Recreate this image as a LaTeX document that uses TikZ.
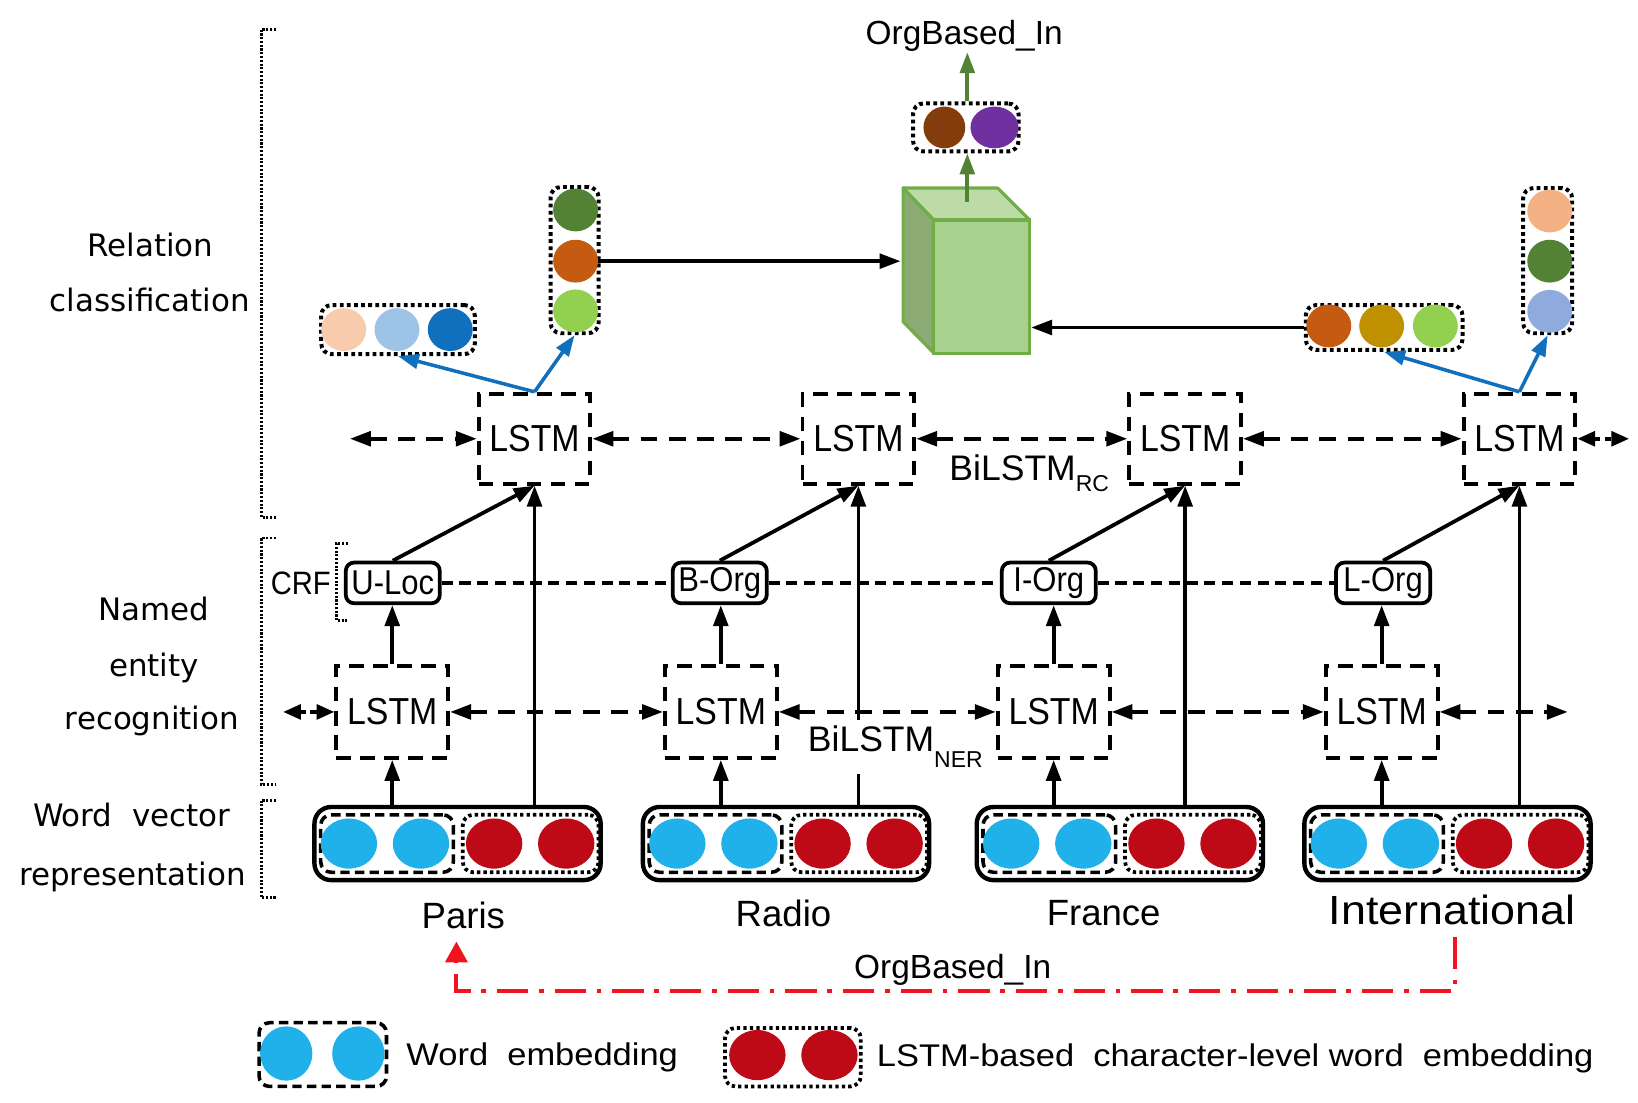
\documentclass[tikz,border=0pt]{standalone}
\usepackage{fontspec}
\setmainfont{Liberation Sans}
\newfontfamily\lab{DejaVu Sans}
\newfontfamily\narrowf{Liberation Sans}[FakeStretch=0.9]
\newfontfamily\widef{Liberation Sans}[FakeStretch=1.1]
\usetikzlibrary{arrows.meta,shapes.geometric,calc}
\definecolor{wblue}{HTML}{20B0EA}
\definecolor{cred}{HTML}{BE0A16}
\definecolor{dgreen}{HTML}{548235}
\definecolor{orng}{HTML}{C55A11}
\definecolor{lgreen}{HTML}{92D050}
\definecolor{peach}{HTML}{F8CBAD}
\definecolor{lblue}{HTML}{9DC3E6}
\definecolor{dblue}{HTML}{1070BE}
\definecolor{gold}{HTML}{BF9000}
\definecolor{peachb}{HTML}{F4B183}
\definecolor{lblueb}{HTML}{8FAADC}
\definecolor{obrown}{HTML}{843C0C}
\definecolor{purp}{HTML}{7030A0}
\definecolor{cubefront}{HTML}{A9D18E}
\definecolor{cubetop}{HTML}{BDDBA6}
\definecolor{cubeleft}{HTML}{8CAA74}
\definecolor{cubeedge}{HTML}{70AD47}
\definecolor{garrow}{HTML}{548235}
\definecolor{barrow}{HTML}{1170BE}
\definecolor{rline}{HTML}{F0141E}
\newcommand\wordvec[3]{%
  \node[embbox] (#1) at (#2,#3) {};
  \node[wdbox] (#1w) at ({#2-67.5},#3) {};
  \node[chbox] (#1c) at ({#2+70},#3) {};
  \node[ball,fill=wblue] (#1a) at ({#2-104},#3) {};
  \node[ball,fill=wblue] (#1b) at ({#2-35},#3) {};
  \node[ball,fill=cred] (#1r) at ({#2+35},#3) {};
  \node[ball,fill=cred] (#1s) at ({#2+104},#3) {};
}
\begin{document}
\begin{tikzpicture}[x=0.5pt,y=-0.5pt,
  arr/.style={line width=1.8pt,-{Triangle[length=10pt,width=7pt]}},
  darr/.style={line width=1.8pt,dash pattern=on 8pt off 5.5pt,{Triangle[length=10pt,width=7pt]}-{Triangle[length=10pt,width=7pt]}},
  sdarr/.style={line width=1.8pt,dash pattern=on 3pt off 2pt,{Triangle[length=8.5pt,width=7pt]}-{Triangle[length=8.5pt,width=7pt]}},
  barr/.style={line width=1.7pt,color=barrow,-{Triangle[length=10pt,width=7pt]}},
  garr/.style={line width=1.8pt,color=garrow,-{Triangle[length=10pt,width=7pt]}},
  rarr/.style={line width=1.9pt,color=rline,dash pattern=on 15pt off 5.2pt on 2.2pt off 5.2pt,-{Triangle[length=10pt,width=10.5pt]}},
  lstmbox/.style={draw,line width=1.9pt,dash pattern=on 7pt off 4.5pt,minimum width=53.5pt,minimum height=43pt,inner sep=0pt,font=\narrowf\fontsize{18}{18}\selectfont},
  tagbox/.style={draw,line width=1.8pt,rounded corners=4pt,minimum width=45pt,minimum height=19.5pt,inner sep=0pt,font=\narrowf\fontsize{16.5}{16.5}\selectfont},
  tagline/.style={line width=1.7pt,dash pattern=on 5.3pt off 3.2pt},
  embbox/.style={draw,line width=2.1pt,rounded corners=8pt,minimum width=137pt,minimum height=35pt,inner sep=0pt},
  wdbox/.style={draw,line width=1.7pt,dash pattern=on 4.5pt off 2.5pt,rounded corners=5pt,minimum width=63.5pt,minimum height=27.5pt,inner sep=0pt},
  chbox/.style={draw,line width=1.8pt,dash pattern=on 1.6pt off 1.5pt,rounded corners=5pt,minimum width=65pt,minimum height=27.5pt,inner sep=0pt},
  vecbox/.style={draw,line width=1.9pt,dash pattern=on 1.8pt off 1.6pt,rounded corners=5pt,inner sep=0pt},
  ball/.style={ellipse,draw=none,inner sep=0pt,minimum width=27pt,minimum height=24pt},
  sball/.style={ellipse,draw=none,inner sep=0pt,minimum width=21.5pt,minimum height=20.5pt},
  bracket/.style={line width=1.4pt,dash pattern=on 1pt off 0.8pt},
  sidelab/.style={font=\lab\fontsize{14.8}{14.8}\selectfont,inner sep=0pt,anchor=base},
  word/.style={font=\fontsize{17.5}{17.5}\selectfont,anchor=base,inner sep=6pt}
]
\useasboundingbox (0,0) rectangle (1568,1055);

% side labels and brackets
\node[sidelab] (l1) at (144,246) {Relation};
\node[sidelab] (l2) at (143.5,298.5) {classification};
\node[sidelab] (l3) at (147.5,594) {Named};
\node[sidelab] (l4) at (147.5,647.6) {entity};
\node[sidelab] (l5) at (145.5,698) {recognition};
\node[sidelab] (l6) at (126,791) {Word\ \ vector};
\node[sidelab] (l7) at (127,847.5) {representation};
\draw[bracket] (264,28) -- (250,28) -- (250,495) -- (264,495);
\draw[bracket] (264,515) -- (250,515) -- (250,751) -- (264,751);
\draw[bracket] (264,766) -- (250,766) -- (250,859) -- (264,859);

% word vectors
\wordvec{e1}{438}{807.5}
\wordvec{e2}{752.4}{807.5}
\wordvec{e3}{1072}{807.5}
\wordvec{e4}{1385.6}{807.5}

\node[word] (paris) at (443.5,888.5) {Paris};
\node[word] (radio) at (750,887) {Radio};
\node[word] (france) at (1056.5,885.5) {France};
\node[word,font=\widef\fontsize{19.5}{19.5}\selectfont] (intl) at (1390,884.6) {International};

% NER LSTMs
\node[lstmbox,minimum height=44pt] (n1) at (375.5,681.5) {LSTM};
\node[lstmbox,minimum height=44pt] (n2) at (690,681.5) {LSTM};
\node[lstmbox,minimum height=44pt] (n3) at (1008.6,681.5) {LSTM};
\node[lstmbox,minimum height=44pt] (n4) at (1322.6,681.5) {LSTM};

% tags
\node[tagbox] (t1) at (376,558) {U-Loc};
\node[tagbox] (t2) at (689,558) {B-Org};
\node[tagbox] (t3) at (1004,558) {I-Org};
\node[tagbox] (t4) at (1324,558) {L-Org};
\node[font=\narrowf\fontsize{15.5}{15.5}\selectfont,inner sep=0pt] (crf) at (288,558) {CRF};
\draw[bracket] (333,520) -- (322,520) -- (322,594) -- (333,594);

% RC LSTMs
\node[lstmbox] (r1) at (511.7,420) {LSTM};
\node[lstmbox] (r2) at (821.7,420) {LSTM};
\node[lstmbox] (r3) at (1134.5,420) {LSTM};
\node[lstmbox] (r4) at (1454.5,420) {LSTM};

% vertical connectors
\foreach \e/\n/\t/\r in {e1/n1/t1/r1,e2/n2/t2/r2,e3/n3/t3/r3,e4/n4/t4/r4}{
  \draw[arr] (\e.north -| \n.south) -- (\n.south);
  \draw[arr] (\n.north) -- (\n.north |- \t.south);
  \draw[arr] (\e.north -| \r.south) -- (\r.south);
  \draw[arr] (\t.north) -- (\r.south);
}

% CRF chain
\draw[tagline] (t1.east) -- (t2.west);
\draw[tagline] (t2.east) -- (t3.west);
\draw[tagline] (t3.east) -- (t4.west);

% NER bidirectional
\coordinate (nl) at (271,681.5);
\coordinate (nr) at (1500.7,681.5);
\draw[sdarr] (nl) -- (n1.west);
\draw[darr] (n1.east) -- (n2.west);
\draw[darr] (n2.east) -- (n3.west);
\draw[darr] (n3.east) -- (n4.west);
\draw[darr] (n4.east) -- (nr);

% RC bidirectional
\coordinate (rl) at (335,420);
\coordinate (rr) at (1559.5,420);
\draw[darr] (rl) -- (r1.west);
\draw[darr] (r1.east) -- (r2.west);
\draw[darr] (r2.east) -- (r3.west);
\draw[darr] (r3.east) -- (r4.west);
\draw[sdarr] (r4.east) -- (rr);

\node[anchor=base west,inner sep=0pt,font=\fontsize{17}{17}\selectfont] (brc) at (908.5,459.5) {BiLSTM\raisebox{-5.5pt}{\fontsize{11}{11}\selectfont RC}};
\node[anchor=base west,fill=white,inner xsep=0pt,inner ysep=3pt,font=\fontsize{17}{17}\selectfont] (bner) at (773,719.6) {BiLSTM\raisebox{-7.5pt}{\fontsize{11}{11}\selectfont NER}};

% entity vectors
\node[vecbox,minimum width=73.5pt,minimum height=23.5pt] (hb1) at (381,315.5) {};
\node[sball,fill=peach] (hb1a) at (329,315.5) {};
\node[sball,fill=lblue] (hb1b) at (380,315.5) {};
\node[sball,fill=dblue] (hb1c) at (431,315.5) {};
\node[vecbox,minimum width=23pt,minimum height=70pt] (vb1) at (550,249) {};
\node[sball,fill=dgreen] (vb1a) at (551,201) {};
\node[sball,fill=orng] (vb1b) at (551,250) {};
\node[sball,fill=lgreen] (vb1c) at (551,297.6) {};
\node[vecbox,minimum width=75pt,minimum height=21.5pt] (hb2) at (1325,313.5) {};
\node[sball,fill=orng] (hb2a) at (1272,312) {};
\node[sball,fill=gold] (hb2b) at (1322.6,312) {};
\node[sball,fill=lgreen] (hb2c) at (1374,312) {};
\node[vecbox,minimum width=23.5pt,minimum height=69.5pt] (vb2) at (1481.5,249.5) {};
\node[sball,fill=peachb] (vb2a) at (1483.5,202) {};
\node[sball,fill=dgreen] (vb2b) at (1483.5,250) {};
\node[sball,fill=lblueb] (vb2c) at (1483.5,298) {};

\draw[barr] (r1.north) -- (vb1.south);
\draw[barr] (r1.north) -- (hb1.south);
\draw[barr] (r4.north) -- (vb2.south);
\draw[barr] (r4.north) -- (hb2.south);

% cube
\filldraw[fill=cubeleft,draw=cubeedge,line width=1.5pt,line join=round] (864.5,180) -- (894,210.6) -- (894,338) -- (864.5,308) -- cycle;
\filldraw[fill=cubetop,draw=cubeedge,line width=1.5pt,line join=round] (864.5,180) -- (955,180) -- (985.6,210.6) -- (894,210.6) -- cycle;
\node[draw=cubeedge,fill=cubefront,line width=1.5pt,minimum width=45.8pt,minimum height=63.7pt,inner sep=0pt] (cube) at (939.8,274.3) {};
\coordinate (cubel) at (862,250);
\coordinate (ctop) at (926,193);
\draw[arr] (vb1b.east) -- (vb1b.east -| cubel);
\draw[arr] (hb2.west) -- (hb2.west -| cube.east);

% output
\node[vecbox,minimum width=50.5pt,minimum height=23pt] (ob) at (924.5,122) {};
\node[ellipse,inner sep=0pt,minimum width=20pt,minimum height=20pt,fill=obrown] (oba) at (904,122) {};
\node[ellipse,inner sep=0pt,minimum width=23pt,minimum height=20pt,fill=purp] (obb) at (952,122) {};
\node[font=\fontsize{16}{16}\selectfont,anchor=base,inner sep=0pt] (rel) at (923,43) {OrgBased\_In};
\draw[garr] (ctop) -- (ctop |- ob.south);
\draw[garr] (ctop |- ob.north) -- (ctop |- rel.south);

% relation arrow
\coordinate (rb) at (900,948.4);
\draw[rarr] ([xshift=1.5pt]intl.south) |- (rb) -| ([xshift=-3.3pt]paris.south);
\node[anchor=base,font=\fontsize{16}{16}\selectfont,inner sep=0pt] (rlab) at (912,937) {OrgBased\_In};

% legend
\node[wdbox,minimum width=61pt,minimum height=30.5pt] (lw) at (309,1009.5) {};
\node[ellipse,inner sep=0pt,minimum width=25pt,minimum height=26pt,fill=wblue] (lwa) at (274,1008.5) {};
\node[ellipse,inner sep=0pt,minimum width=25pt,minimum height=26pt,fill=wblue] (lwb) at (343,1008.5) {};
\node[anchor=base west,font=\widef\fontsize{15}{15}\selectfont,inner sep=0pt] (lwt) at (388.7,1019.6) {Word\ \ embedding};
\node[chbox,minimum width=65pt,minimum height=28pt] (lc) at (759,1012) {};
\node[ball,fill=cred] (lca) at (725,1010) {};
\node[ball,fill=cred] (lcb) at (794,1010) {};
\node[anchor=base west,font=\widef\fontsize{15}{15}\selectfont,inner sep=0pt] (lct) at (839,1021) {LSTM-based\ \ character-level word\ \ embedding};
\end{tikzpicture}
\end{document}
